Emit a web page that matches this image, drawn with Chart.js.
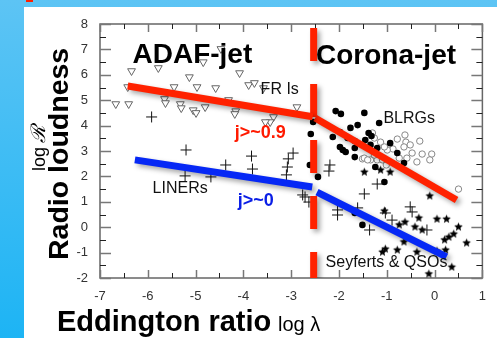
<!DOCTYPE html>
<html>
<head>
<meta charset="utf-8">
<script src="https://cdn.jsdelivr.net/npm/chart.js@4"></script>
<style>
  html, body { margin: 0; padding: 0; background: #fff; }
  canvas { display: block; }
</style>
</head>
<body>
<canvas id="myChart" width="497" height="338"></canvas>
<script>
// Data: [log lambda, log R]
const frIs = [
  [-6.67,4.85],[-6.40,4.85],[-6.42,5.52],[-6.34,6.15],[-5.78,6.27],[-5.45,5.52],
  [-5.65,5.05],[-5.63,4.89],[-5.32,4.85],[-5.30,4.69],[-5.13,5.91],[-4.97,5.52],
  [-5.05,4.61],[-4.99,4.50],[-4.80,4.73],[-4.58,5.48],[-4.47,7.02],[-4.84,6.50],
  [-4.08,6.07],[-4.16,4.57],[-4.18,4.46],[-4.31,5.01],[-3.89,5.60],[-3.77,5.68],
  [-3.58,5.48],[-2.88,4.73],[-3.37,4.34],[-3.44,4.14],[-3.54,4.14]
];
const liners = [
  [-5.92,4.34],[-5.20,3.04],[-5.22,2.02],[-4.68,1.98],[-4.37,2.45],[-3.83,2.80],
  [-3.81,2.29],[-2.96,2.92],[-3.06,2.69],[-3.08,2.37],[-2.19,2.45],[-2.21,2.21],
  [-3.10,2.06],[-2.71,1.19],[-2.63,0.99],[-2.76,1.27],[-1.47,1.31],[-1.20,1.70],
  [-2.03,0.68],[-2.03,0.48],[-1.61,0.76],[-1.36,-0.11],[-1.03,0.56],[-0.89,0.28],
  [-0.51,0.80],[-0.47,0.60],[-0.16,-0.11]
];
const blrgsFilled = [
  [-2.07,4.57],[-1.96,4.46],[-1.47,4.50],[-1.16,4.10],[-2.54,4.14],[-2.59,3.67],
  [-2.13,3.55],[-1.98,3.75],[-1.76,3.91],[-1.61,4.02],[-1.38,3.71],[-1.32,3.59],
  [-1.45,3.43],[-1.82,3.51],[-1.67,3.39],[-1.98,3.16],[-1.92,3.04],[-1.86,2.96],
  [-1.67,3.12],[-1.67,2.76],[-1.34,3.24],[-1.20,3.12],[-0.93,3.31],[-0.78,2.92],
  [-0.64,2.53],[-1.24,2.37],[-1.05,1.78],[-2.61,2.45],[-2.44,1.98],[-1.51,0.09],
  [-1.67,0.56]
];
const blrgsOpen = [
  [-0.62,3.63],[-0.78,3.47],[-0.60,3.35],[-0.51,3.24],[-0.31,3.39],[-0.64,3.16],
  [-0.87,3.08],[-0.99,3.04],[-0.47,2.92],[-0.26,2.88],[-0.06,2.88],[-0.10,2.65],
  [-0.37,2.57],[-0.58,2.72],[-1.34,2.65],[-1.51,2.69],[-1.20,2.65],[-1.09,2.65],
  [-1.01,2.45],[-0.74,2.72],[0.50,1.50],[-1.13,3.35],[-1.05,3.16],[-1.26,2.84],
  [-1.30,3.71],[-1.26,3.51],[-1.47,2.72],[-1.40,2.65]
];
const seyferts = [
  [-1.47,2.17],[-1.13,2.25],[-0.93,2.17],[-0.10,1.23],[-1.05,0.64],[-0.62,0.20],
  [-0.74,0.09],[-0.41,0.01],[-0.33,0.36],[0.05,0.32],[0.25,0.32],[-0.26,-0.11],
  [0.50,0.01],[0.40,-0.27],[0.30,-0.39],[0.21,-0.50],[0.67,-0.62],[-0.64,-0.58],
  [-1.09,-0.98],[-1.03,-0.86],[-0.78,-0.90],[-0.37,-0.98],[0.05,-0.94],[0.23,-0.90],
  [0.36,-1.57],[-0.12,-1.84]
];

// Fitted tracks
const redLeft = [[-6.42,5.56],[-2.55,4.35]];
const redRight = [[-2.50,4.30],[0.46,1.07]];
const blueLeft = [[-6.27,2.65],[-2.56,1.58]];
const blueRight = [[-2.46,1.38],[0.25,-1.17]];
const divide = [[-2.53,7.84],[-2.53,-2.05]];

const xTicks = [-7,-6,-5,-4,-3,-2,-1,0,1];
const yTicks = [-2,-1,0,1,2,3,4,5,6,7,8];

// Annotations: [text, x, y, font, colour]
const notes = [
  ['ADAF-jet', -6.32, 6.46, 'bold 28px "Liberation Sans", Arial', '#000'],
  ['Corona-jet', -2.48, 6.43, 'bold 28px "Liberation Sans", Arial', '#000'],
  ['FR Is', -3.64, 5.25, '16px "Liberation Sans", Arial', '#111'],
  ['BLRGs', -1.07, 4.10, '16px "Liberation Sans", Arial', '#111'],
  ['j>~0.9', -4.18, 3.51, 'bold 18px "Liberation Sans", Arial', '#ff1a00'],
  ['LINERs', -5.90, 1.35, '16px "Liberation Sans", Arial', '#111'],
  ['j>~0', -4.12, 0.83, 'bold 18px "Liberation Sans", Arial', '#0a1ee6'],
  ['Seyferts & QSOs', -2.28, -1.57, '16px "Liberation Sans", Arial', '#111']
];

const toXY = a => a.map(p => ({x: p[0], y: p[1]}));

function makeStar(r) {
  const c = document.createElement('canvas');
  c.width = c.height = Math.ceil(2 * r + 2);
  const g = c.getContext('2d');
  const m = c.width / 2;
  g.fillStyle = '#000';
  g.beginPath();
  for (let i = 0; i < 10; i++) {
    const a = -Math.PI / 2 + i * Math.PI / 5;
    const rr = i % 2 ? r * 0.45 : r;
    g.lineTo(m + rr * Math.cos(a), m + rr * Math.sin(a));
  }
  g.closePath();
  g.fill();
  return c;
}

// background: blue frame + white slide
const backdrop = {
  id: 'backdrop',
  beforeDraw(chart) {
    const ctx = chart.ctx;
    const grad = ctx.createLinearGradient(0, 0, 0, chart.height);
    grad.addColorStop(0, '#5dc4f4');
    grad.addColorStop(1, '#1db4f4');
    ctx.save();
    ctx.fillStyle = grad;
    ctx.fillRect(0, 0, chart.width, chart.height);
    ctx.fillStyle = '#fff';
    ctx.fillRect(24, 7, chart.width - 24, chart.height - 7);
    ctx.fillStyle = '#ff2000';
    ctx.fillRect(26, 0, 7, 2);
    ctx.restore();
  }
};

// box with inward ticks on all four sides
const frame = {
  id: 'frame',
  beforeDatasetsDraw(chart) {
    const {ctx, chartArea: a, scales: {x, y}} = chart;
    ctx.save();
    ctx.strokeStyle = '#666';
    ctx.lineWidth = 1.5;
    ctx.strokeRect(a.left, a.top, a.right - a.left, a.bottom - a.top);
    for (let v = x.min; v <= x.max; v += 0.5) {
      const px = Math.round(x.getPixelForValue(v)) + 0.5;
      const major = Number.isInteger(v);
      const len = major ? 8 : 5;
      ctx.strokeStyle = major ? '#777' : '#222';
      ctx.lineWidth = major ? 1.5 : 1;
      ctx.beginPath();
      ctx.moveTo(px, a.bottom); ctx.lineTo(px, a.bottom - len);
      ctx.moveTo(px, a.top); ctx.lineTo(px, a.top + len);
      ctx.stroke();
    }
    for (let v = y.min; v <= y.max; v += 0.5) {
      const py = Math.round(y.getPixelForValue(v)) + 0.5;
      const major = Number.isInteger(v);
      const len = major ? 11 : 6;
      ctx.strokeStyle = major ? '#777' : '#222';
      ctx.lineWidth = major ? 1.5 : 1;
      ctx.beginPath();
      ctx.moveTo(a.left, py); ctx.lineTo(a.left + len, py);
      ctx.moveTo(a.right, py); ctx.lineTo(a.right - len, py);
      ctx.stroke();
    }
    ctx.restore();
  },
  beforeDatasetDraw(chart, args) {
    if (args.meta._dataset.shadow) {
      const ctx = chart.ctx;
      ctx.save();
      ctx.shadowColor = 'rgba(0,0,0,0.35)';
      ctx.shadowBlur = 5;
      ctx.shadowOffsetX = 3;
      ctx.shadowOffsetY = 3;
    }
  },
  afterDatasetDraw(chart, args) {
    if (args.meta._dataset.shadow) chart.ctx.restore();
  },
  afterDatasetsDraw(chart) {
    const {ctx, scales: {x, y}} = chart;
    ctx.save();
    ctx.textBaseline = 'alphabetic';
    ctx.textAlign = 'left';
    notes.forEach(n => {
      ctx.font = n[3];
      ctx.fillStyle = n[4];
      ctx.fillText(n[0], x.getPixelForValue(n[1]), y.getPixelForValue(n[2]));
    });
    // axis titles
    ctx.fillStyle = '#000';
    ctx.font = 'bold 29px "Liberation Sans", Arial';
    ctx.fillText('Eddington ratio', 57, 331);
    ctx.font = '20px "Liberation Sans", Arial';
    ctx.fillText('log λ', 278, 331);
    ctx.save();
    ctx.translate(68, 260);
    ctx.rotate(-Math.PI / 2);
    ctx.font = 'bold 28.5px "Liberation Sans", Arial';
    ctx.fillText('Radio loudness', 0, 0);
    ctx.restore();
    ctx.save();
    ctx.translate(45, 171);
    ctx.rotate(-Math.PI / 2);
    ctx.font = '18px "Liberation Sans", Arial';
    ctx.fillText('log', 0, 0);
    ctx.font = 'italic 20px "DejaVu Serif", serif';
    ctx.fillText('ℛ', 28, 0);
    ctx.restore();
    ctx.restore();
  }
};

const lineSet = (pts, color, extra) => Object.assign({
  data: toXY(pts),
  showLine: true,
  borderColor: color,
  backgroundColor: color,
  borderWidth: 7,
  borderCapStyle: 'butt',
  pointRadius: 0,
  shadow: true,
  order: 0
}, extra || {});

const data = {
  datasets: [
    lineSet(redLeft, '#ff2200'),
    lineSet(redRight, '#ff2200'),
    lineSet(blueLeft, '#0628f5'),
    lineSet(blueRight, '#0628f5'),
    lineSet(divide, '#ff2200', {borderDash: [33, 23], borderWidth: 7}),
    {
      label: 'FR Is',
      data: toXY(frIs),
      pointStyle: 'triangle',
      rotation: 180,
      radius: 4.5,
      borderWidth: 1,
      borderColor: '#666',
      backgroundColor: '#fff',
      order: 2
    },
    {
      label: 'LINERs',
      data: toXY(liners),
      pointStyle: 'cross',
      radius: 5.5,
      borderWidth: 1,
      borderColor: '#111',
      order: 2
    },
    {
      label: 'BLRGs open',
      data: toXY(blrgsOpen),
      pointStyle: 'circle',
      radius: 3.2,
      borderWidth: 1,
      borderColor: '#888',
      backgroundColor: '#fff',
      order: 3
    },
    {
      label: 'BLRGs',
      data: toXY(blrgsFilled),
      pointStyle: 'circle',
      radius: 3.3,
      borderWidth: 0,
      backgroundColor: '#000',
      order: 2
    },
    {
      label: 'Seyferts & QSOs',
      data: toXY(seyferts),
      pointStyle: makeStar(4.5),
      radius: 4.5,
      order: 2
    }
  ]
};

const config = {
  type: 'scatter',
  data: data,
  plugins: [backdrop, frame],
  options: {
    responsive: false,
    animation: false,
    events: [],
    layout: { padding: { top: 24, right: 11, left: 0, bottom: 0 } },
    plugins: { legend: { display: false }, tooltip: { enabled: false } },
    scales: {
      x: {
        type: 'linear',
        min: -7,
        max: 1,
        afterFit: s => { s.height = 60; },
        afterBuildTicks: s => { s.ticks = xTicks.map(v => ({value: v})); },
        grid: { display: false, drawTicks: false },
        border: { display: false },
        ticks: { padding: 11, color: '#333', font: { size: 13, family: '"Liberation Sans", Arial' } }
      },
      y: {
        type: 'linear',
        min: -2,
        max: 8,
        afterFit: s => { s.width = 100; },
        afterBuildTicks: s => { s.ticks = yTicks.map(v => ({value: v})); },
        grid: { display: false, drawTicks: false },
        border: { display: false },
        ticks: { padding: 12, color: '#333', font: { size: 13, family: '"Liberation Sans", Arial' } }
      }
    }
  }
};

const myChart = new Chart(document.getElementById('myChart'), config);
</script>
</body>
</html>
